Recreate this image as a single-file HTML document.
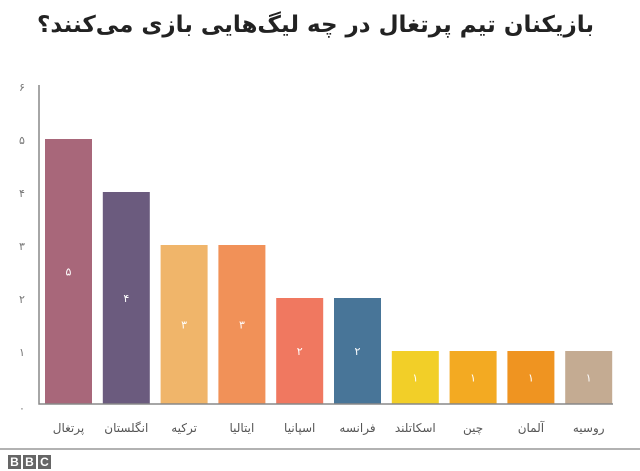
<!DOCTYPE html>
<html><head><meta charset="utf-8"><style>
body{margin:0;background:#fff;width:640px;height:471px;overflow:hidden;font-family:"Liberation Sans","DejaVu Sans",sans-serif;position:relative}
#title{position:absolute;right:46px;top:12px;direction:rtl;font-size:23px;font-weight:bold;color:#222;font-family:"DejaVu Sans","Noto Sans CJK SC",sans-serif;white-space:nowrap}
svg{position:absolute;left:0;top:0}
</style></head><body>
<svg width="640" height="471">
<g id="g"></g>
<line x1="0" y1="449" x2="640" y2="449" stroke="#999" stroke-width="1.5"/>
<g>
<rect x="8" y="455" width="13" height="14" fill="#666"/><rect x="23" y="455" width="13" height="14" fill="#666"/><rect x="38" y="455" width="13" height="14" fill="#666"/>
<text x="14.5" y="466" text-anchor="middle" fill="#fff" font-size="12" font-weight="bold">B</text>
<text x="29.5" y="466" text-anchor="middle" fill="#fff" font-size="12" font-weight="bold">B</text>
<text x="44.5" y="466" text-anchor="middle" fill="#fff" font-size="12" font-weight="bold">C</text>
</g>
</svg>
<div id="title">بازیکنان تیم پرتغال در چه لیگ‌هایی بازی می‌کنند؟</div>
<script>
const categories=["پرتغال","انگلستان","ترکیه","ایتالیا","اسپانیا","فرانسه","اسکاتلند","چین","آلمان","روسیه"];
const values=[5,4,3,3,2,2,1,1,1,1];
const valueLabels=["۵","۴","۳","۳","۲","۲","۱","۱","۱","۱"];
const colors=["#a8677a","#6b5b7e","#f0b56a","#f19158","#f07860","#487598","#f2cf28","#f3aa22","#ef9421","#c4ab92"];
const ticks=[0,1,2,3,4,5,6];
const tickLabels=["۰","۱","۲","۳","۴","۵","۶"];
const NS="http://www.w3.org/2000/svg",g=document.getElementById('g');
const y=v=>404-53*v, x=i=>45+i*57.8;
function mk(t,a,txt){const e=document.createElementNS(NS,t);for(const k in a)e.setAttribute(k,a[k]);if(txt!=null)e.textContent=txt;g.appendChild(e);return e;}
ticks.forEach((t,i)=>{const e=mk('text',{x:22,y:y(t)+(t===0?8:5),'text-anchor':'middle','font-size':11,fill:'#777'},tickLabels[i]);

});
values.forEach((v,i)=>{
const r=mk('rect',{x:x(i),y:y(v),width:47,height:y(0)-y(v),fill:colors[i]});


const l=mk('text',{x:x(i)+23.5,y:(y(v)+y(0))/2+4,'text-anchor':'middle','font-size':11,fill:'#fff'},valueLabels[i]);


const c=mk('text',{x:x(i)+23.5,y:432,'text-anchor':'middle','font-size':12,fill:'#555','font-family':"'DejaVu Sans',sans-serif"},categories[i]);


});
const ax=mk('polyline',{points:`39,85 39,404 613,404`,fill:'none',stroke:'#888','stroke-width':1.5});


</script>
</body></html>
